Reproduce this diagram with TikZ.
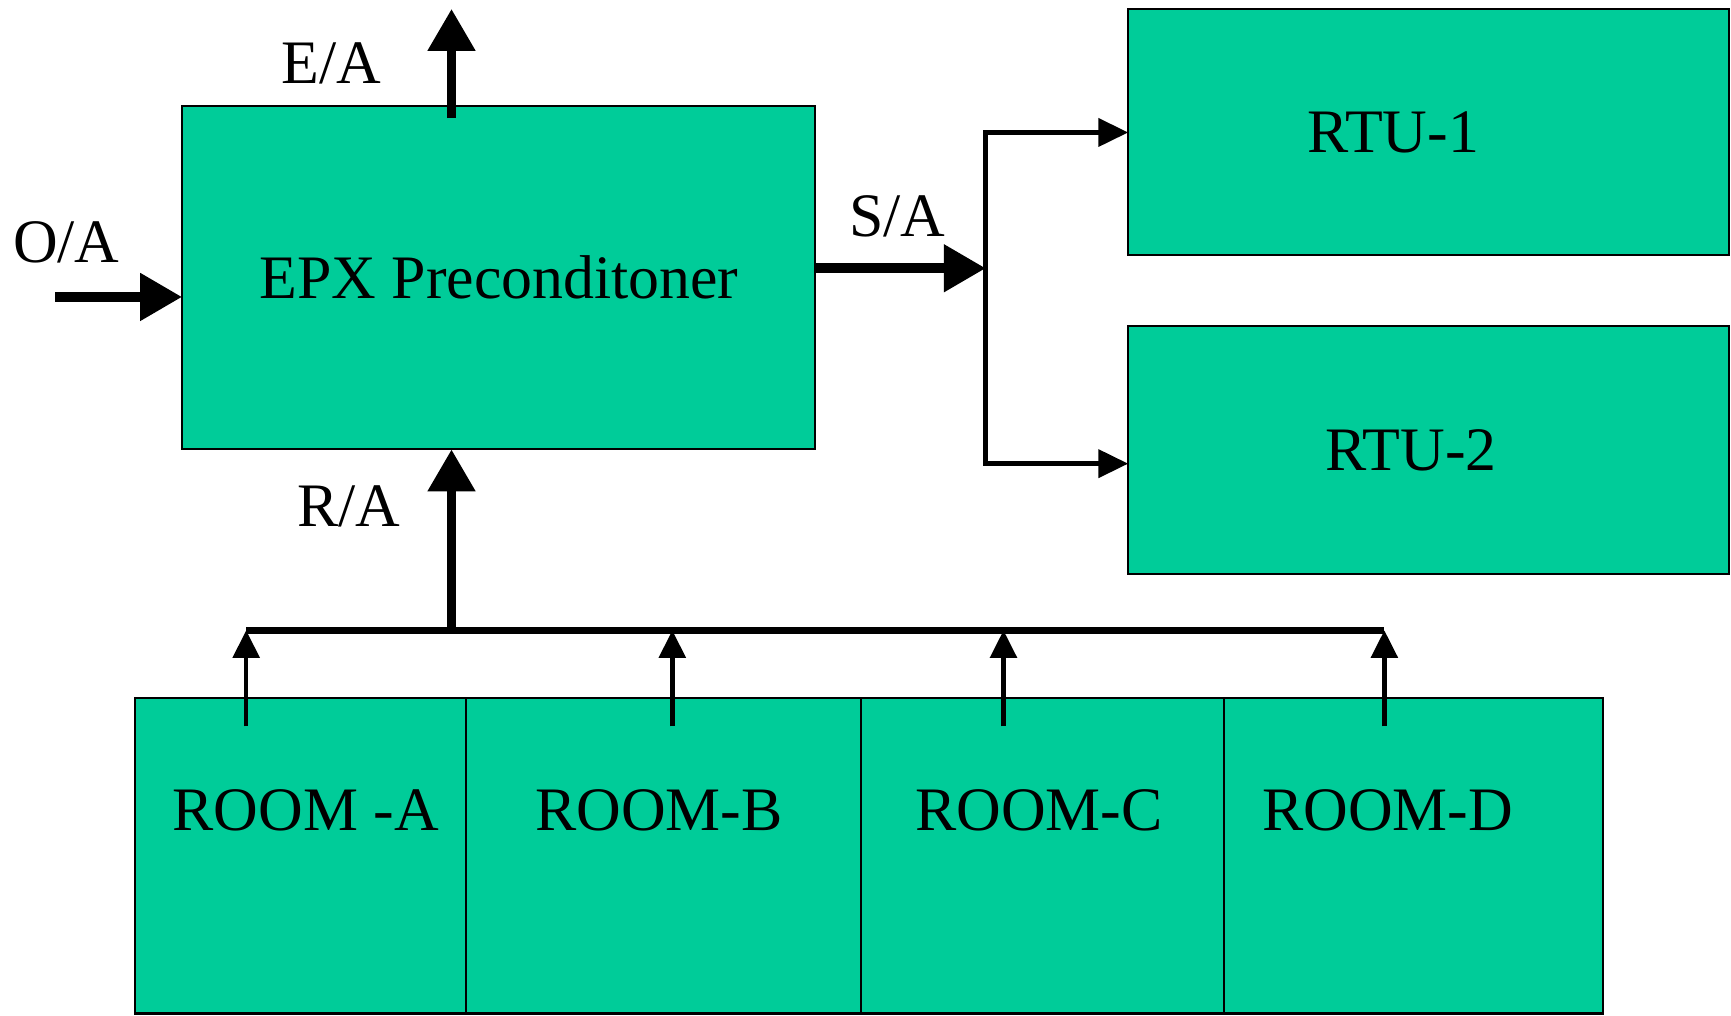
\documentclass[tikz,border=0pt]{standalone}
\usepackage{fontspec}
\setmainfont{Liberation Serif}
\usetikzlibrary{arrows.meta,calc}
\definecolor{boxgreen}{RGB}{0,204,153}
\begin{document}
\begin{tikzpicture}[x=1pt,y=-1pt,
  box/.style={draw=black, line width=2pt, fill=boxgreen, inner sep=0pt, outer sep=0pt},
  txt/.style={font=\fontsize{56}{60}\selectfont, inner sep=0pt, anchor=base},
  bigarrow/.style={line width=9pt, -{Triangle[length=38pt,width=41pt]}},
  thinarrow/.style={line width=4.5pt, line join=miter, -{Triangle[length=27pt,width=25pt]}},
  busline/.style={line width=6pt},
  smallarrow/.style={line width=4pt, -{Triangle[length=25pt,width=24pt]}},
]
\useasboundingbox (0,0) rectangle (1568,920);

% boxes
\node[box, minimum width=573pt, minimum height=311pt] (epx) at (451.5,251.5) {};
\node[box, minimum width=544pt, minimum height=223pt] (rtu1) at (1294,119.5) {};
\node[box, minimum width=544pt, minimum height=225pt] (rtu2) at (1294,407.5) {};
\node[box, minimum width=300pt, minimum height=286pt] (roomA) at (272,775) {};
\node[box, minimum width=358pt, minimum height=286pt] (roomB) at (601,775) {};
\node[box, minimum width=329pt, minimum height=286pt] (roomC) at (944.5,775) {};
\node[box, minimum width=343pt, minimum height=286pt] (roomD) at (1280.5,775) {};

% texts
\node[txt] (tepx) at (452,270) {EPX Preconditoner};
\node[txt] (trtu1) at (1262,138) {RTU-1};
\node[txt] (trtu2) at (1278,426) {RTU-2};
\node[txt] (troomA) at (277,752) {ROOM -A};
\node[txt] (troomB) at (597,752) {ROOM-B};
\node[txt] (troomC) at (941,752) {ROOM-C};
\node[txt] (troomD) at (1257,752) {ROOM-D};
\node[txt] (lea) at (300,76) {E/A};
\node[txt] (loa) at (60,238) {O/A};
\node[txt] (lsa) at (813,214) {S/A};
\node[txt] (lra) at (316,477) {R/A};

% coordinates
\coordinate (eatip) at (409,8);
\coordinate (oastart) at (50,269);
\coordinate (sj) at (893,243);
\coordinate (b1) at (893,120);
\coordinate (b2) at (893,420);
\coordinate (bus) at (409,571);
\coordinate (busL) at (223,571);
\coordinate (busR) at (1254,571);
\coordinate (sa) at (223,658);
\coordinate (sb) at (609,658);
\coordinate (sc) at (909,658);
\coordinate (sd) at (1254,658);

% connectors
\draw[bigarrow] ($(eatip |- epx.north)+(0,11)$) -- (eatip);
\draw[bigarrow] (oastart) -- (oastart -| epx.west);
\draw[bigarrow] (sj -| epx.east) -- (sj);
\draw[thinarrow] (sj) -- (b1) -- (b1 -| rtu1.west);
\draw[thinarrow] (sj) -- (b2) -- (b2 -| rtu2.west);
\draw[busline] (busL) -- (busR);
\draw[bigarrow] (bus) -- (bus |- epx.south);
\draw[smallarrow] (sa) -- (sa |- bus);
\draw[smallarrow] (sb) -- (sb |- bus);
\draw[smallarrow] (sc) -- (sc |- bus);
\draw[smallarrow] (sd) -- (sd |- bus);
\end{tikzpicture}
\end{document}
